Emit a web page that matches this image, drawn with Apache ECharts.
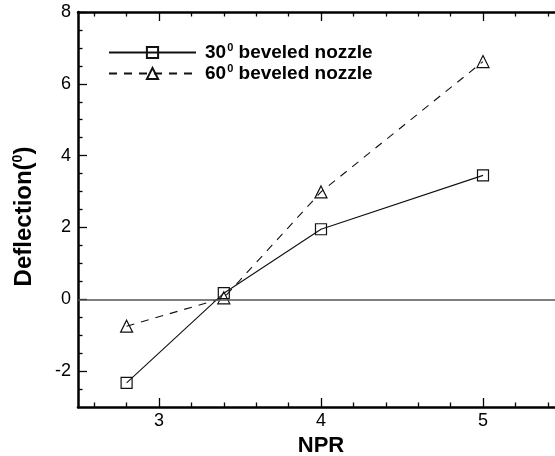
<!DOCTYPE html>
<html>
<head>
<meta charset="utf-8">
<script src="https://cdn.jsdelivr.net/npm/echarts@6/dist/echarts.min.js"></script>
<style>
  html, body { margin: 0; padding: 0; background: #fff; }
  #chart { width: 555px; height: 456px; }
</style>
</head>
<body>
<div id="chart"></div>
<script>
// Nozzle pressure ratio values at which deflection was measured
const npr = [2.8, 3.4, 4, 5];
// Jet deflection in degrees for each nozzle bevel angle
const deflection30 = [-2.33, 0.17, 1.95, 3.45];
const deflection60 = [-0.75, 0.04, 2.99, 6.62];

const seriesNames = ['30 beveled nozzle', '60 beveled nozzle'];

// Axis ticks
const xMajorTicks = [3, 4, 5];
const xMinorTicks = [2.6, 2.8, 3.2, 3.4, 3.6, 3.8, 4.2, 4.4, 4.6, 4.8, 5.2, 5.4];
const yMajorTicks = [-2, 0, 2, 4, 6, 8];
const yMinorTicks = [-2.5, -1.5, -1, -0.5, 0.5, 1, 1.5, 2.5, 3, 3.5, 4.5, 5, 5.5, 6.5, 7, 7.5];

const FONT = 'Liberation Sans, Arial, Helvetica, sans-serif';
const pairs = (xs, ys) => xs.map((x, i) => [x, ys[i]]);

const axisLineStyle = { color: '#000', width: 2.5 };
const tickStyle = { color: '#000', width: 1.3 };

function xAxisDef(position, major, showLine, extra) {
  return Object.assign({
    type: 'value', min: 2.5, max: 5.5, position: position,
    axisLine: { show: showLine, onZero: false, lineStyle: axisLineStyle },
    axisTick: { show: true, inside: true, length: major ? 9 : 4.5,
                customValues: major ? xMajorTicks : xMinorTicks, lineStyle: tickStyle },
    axisLabel: { show: false },
    splitLine: { show: false }
  }, extra || {});
}
function yAxisDef(major, showLine, extra) {
  return Object.assign({
    type: 'value', min: -3, max: 8, position: 'left',
    axisLine: { show: showLine, onZero: false, lineStyle: axisLineStyle },
    axisTick: { show: true, inside: true, length: major ? 9 : 4.5,
                customValues: major ? yMajorTicks : yMinorTicks, lineStyle: tickStyle },
    axisLabel: { show: false },
    splitLine: { show: false }
  }, extra || {});
}

const chart = echarts.init(document.getElementById('chart'), null, { renderer: 'canvas' });

chart.setOption({
  animation: false,
  backgroundColor: '#fff',
  textStyle: { fontFamily: FONT },
  grid: { left: 78, top: 12, right: -9, bottom: 49, containLabel: false, outerBoundsMode: 'none' },
  legend: {
    orient: 'vertical', left: 103, top: 37,
    itemWidth: 87, itemHeight: 14, itemGap: 1,
    data: seriesNames,
    formatter: n => '{b|' + n.slice(0, 2) + '}{s|0}{b|' + n.slice(2) + '}',
    textStyle: {
      padding: [0, 0, 0, 4],
      rich: {
        b: { fontFamily: FONT, fontSize: 19, fontWeight: 'bold', color: '#000', lineHeight: 21 },
        s: { fontFamily: FONT, fontSize: 11, fontWeight: 'bold', color: '#000', verticalAlign: 'top', lineHeight: 21, padding: [0, 0, 6, 1] }
      }
    }
  },
  xAxis: [
    xAxisDef('bottom', true, true, {
      name: 'NPR', nameLocation: 'middle', nameGap: 21,
      nameTextStyle: { fontFamily: FONT, fontSize: 22, fontWeight: 'bold', color: '#000' },
      axisLabel: { show: true, customValues: xMajorTicks, margin: 5,
                   fontFamily: FONT, fontSize: 18, color: '#000' }
    }),
    xAxisDef('bottom', false, false),
    xAxisDef('top', true, true),
    xAxisDef('top', false, false)
  ],
  yAxis: [
    yAxisDef(true, true, {
      name: '{b|Deflection(}{s|0}{b|)}', nameLocation: 'middle', nameGap: 41, nameRotate: 90,
      nameTextStyle: {
        padding: [0, 14, 0, 0],
        rich: {
          b: { fontFamily: FONT, fontSize: 24, fontWeight: 'bold', color: '#000' },
          s: { fontFamily: FONT, fontSize: 14, fontWeight: 'bold', color: '#000', verticalAlign: 'top', padding: [0, 0, 12, 0] }
        }
      },
      axisLabel: { show: true, customValues: yMajorTicks, margin: 7,
                   fontFamily: FONT, fontSize: 18, color: '#000' }
    }),
    yAxisDef(false, false)
  ],
  series: [
    {
      name: seriesNames[0], type: 'line', xAxisIndex: 0, yAxisIndex: 0,
      data: pairs(npr, deflection30),
      symbol: 'rect', symbolSize: 11, showAllSymbol: true,
      lineStyle: { color: '#111', width: 1.1, type: 'solid' },
      itemStyle: { color: 'rgba(255,255,255,0)', borderColor: '#111', borderWidth: 1.2 },
      markLine: {
        silent: true, symbol: 'none', label: { show: false },
        lineStyle: { color: '#555', width: 1.5, type: 'solid' },
        data: [{ yAxis: 0 }]
      },
      z: 3
    },
    {
      name: seriesNames[1], type: 'line', xAxisIndex: 0, yAxisIndex: 0,
      data: pairs(npr, deflection60),
      symbol: 'triangle', symbolSize: 12, showAllSymbol: true,
      lineStyle: { color: '#111', width: 1.1, type: [8, 7] },
      itemStyle: { color: 'rgba(255,255,255,0)', borderColor: '#111', borderWidth: 1.2 },
      z: 3
    }
  ]
});
</script>
</body>
</html>
